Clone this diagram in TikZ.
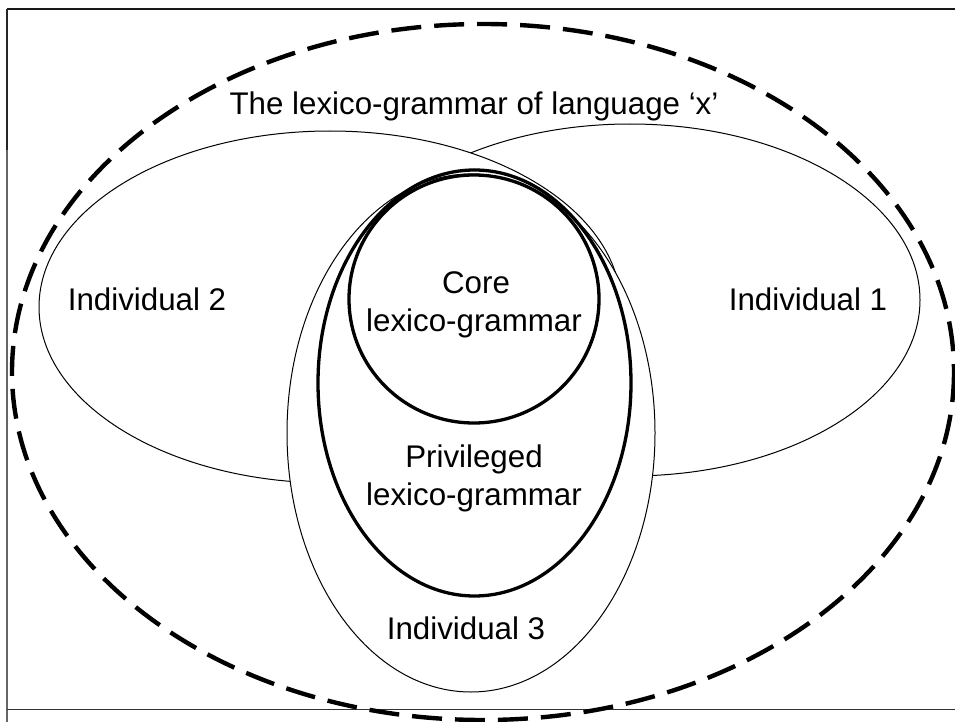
\documentclass[tikz,border=0pt]{standalone}
\usepackage{fontspec}
\setmainfont{Liberation Sans}
\begin{document}
\begin{tikzpicture}[x=1bp,y=-1bp,
  thinring/.style={draw=black,line width=1bp,fill=white},
  thickring/.style={draw=black,line width=3.3bp},
  outerring/.style={draw=black,line width=4.4bp,dash pattern=on 30bp off 13bp},
  lbl/.style={inner sep=0pt,anchor=base,font=\fontsize{31.3bp}{38bp}\selectfont}]
\useasboundingbox (0,0) rectangle (955,722);
% frame
\draw[line width=2bp,black!90] (7,9) -- (955,9);
\draw[line width=2bp,black!85] (7,9) -- (7,150);
\draw[line width=1.3bp,black!60] (7,150) -- (7,722);
\draw[line width=1bp,black!80] (7,709) -- (955,709);
% whole language
\draw[outerring] (483,372) ellipse [x radius=471, y radius=348];
\node[lbl] (title) at (474,115) {The lexico-grammar of language ‘x’};
% individuals
\draw[thinring] (630,300) ellipse [x radius=290, y radius=176];
\draw[thinring] (330,307) ellipse [x radius=291, y radius=176];
\draw[thinring] (471,433) ellipse [x radius=184, y radius=259];
% privileged and core
\draw[thickring] (474.5,383) ellipse [x radius=156.5, y radius=213];
\draw[thickring] (474,299) ellipse [x radius=125, y radius=124];
% labels
\node[lbl] (ind2) at (147,310) {Individual 2};
\node[lbl] (ind1) at (808,310) {Individual 1};
\node[lbl] (ind3) at (466,639) {Individual 3};
\node[lbl] (core1) at (476,293) {Core};
\node[lbl] (core2) at (474,331) {lexico-grammar};
\node[lbl] (priv1) at (474,467) {Privileged};
\node[lbl] (priv2) at (474,505) {lexico-grammar};
\end{tikzpicture}
\end{document}
